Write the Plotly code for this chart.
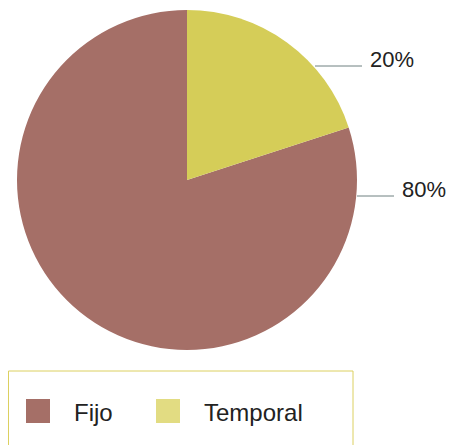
import plotly.graph_objects as go

categories = ["Fijo", "Temporal"]
values = [80, 20]
pie_colors = ["#a56f67", "#d5cd58"]
legend_colors = ["#a56f67", "#e2dc82"]
label_texts = ["80%", "20%"]

W, H = 459, 445
OFF = 8  # page body margin in the browser

def px(x):
    return (x - OFF) / W

def py(y):
    return 1 - (y - OFF) / H

fig = go.Figure()
fig.add_trace(go.Pie(
    labels=categories,
    values=values,
    sort=False,
    direction="clockwise",
    rotation=72,
    marker=dict(colors=pie_colors, line=dict(width=0)),
    textinfo="none",
    hoverinfo="label+percent",
    domain=dict(x=[px(17), px(357)], y=[py(350), py(10)]),
    showlegend=False,
))

font_family = "Liberation Sans, Arial, sans-serif"
shapes = []
annotations = []

leaders = [
    (1, 315, 362, 66, 368, 59),
    (0, 357, 394, 196, 400, 189),
]
for idx, x0, x1, ly, tx, ty in leaders:
    shapes.append(dict(type="line", xref="paper", yref="paper",
                       x0=px(x0), x1=px(x1), y0=py(ly), y1=py(ly),
                       line=dict(color="#6f8080", width=1)))
    annotations.append(dict(xref="paper", yref="paper", x=px(tx), y=py(ty),
                            text=label_texts[idx], showarrow=False,
                            xanchor="left", yanchor="middle",
                            font=dict(family=font_family, size=22, color="#222222")))

shapes.append(dict(type="rect", xref="paper", yref="paper",
                   x0=px(8.5), x1=px(353), y0=py(470), y1=py(371),
                   line=dict(color="#dcd060", width=1), fillcolor="rgba(0,0,0,0)"))
legend_items = [(26, 72), (156, 202)]
for i, (sx, tx) in enumerate(legend_items):
    shapes.append(dict(type="rect", xref="paper", yref="paper",
                       x0=px(sx), x1=px(sx + 24), y0=py(423), y1=py(399),
                       line=dict(width=0), fillcolor=legend_colors[i]))
    annotations.append(dict(xref="paper", yref="paper", x=px(tx), y=py(412),
                            text=categories[i], showarrow=False,
                            xanchor="left", yanchor="middle",
                            font=dict(family=font_family, size=24, color="#222222")))

fig.update_layout(
    width=W, height=H,
    margin=dict(l=0, r=0, t=0, b=0),
    paper_bgcolor="white",
    plot_bgcolor="white",
    shapes=shapes,
    annotations=annotations,
    showlegend=False,
)

fig.write_html("out.html")
